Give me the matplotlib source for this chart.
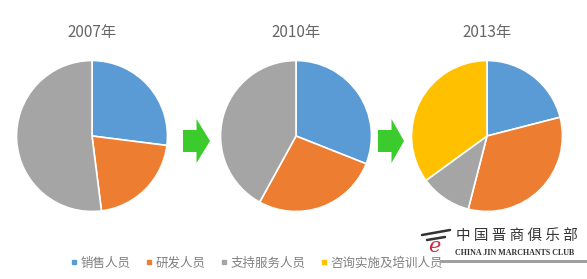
import matplotlib
matplotlib.use('Agg')
import matplotlib.pyplot as plt
from matplotlib.lines import Line2D
from matplotlib.patches import Polygon, Rectangle

plt.rcParams['font.family'] = ['Noto Sans CJK SC', 'DejaVu Sans']

# data (shares in %)
years = ['2007年', '2010年', '2013年']
roles = ['销售人员', '研发人员', '支持服务人员', '咨询实施及培训人员']
share_2007 = [27, 21, 52, 0]
share_2010 = [31, 27, 42, 0]
share_2013 = [21, 33, 11, 35]
colors = ['#5B9BD5', '#ED7D31', '#A5A5A5', '#FFC000']

W, H = 587, 279
fig = plt.figure(figsize=(W / 100, H / 100), dpi=100)
fig.patch.set_facecolor('white')

# pie centres / radius in pixels
centres = [(92, 136), (296, 136), (487, 136)]
r = 77

for (cx, cy), title, vals in zip(centres, years, [share_2007, share_2010, share_2013]):
    ax = fig.add_axes([(cx - r) / W, (H - cy - r) / H, 2 * r / W, 2 * r / H])
    v = [x for x in vals if x > 0]
    c = [col for x, col in zip(vals, colors) if x > 0]
    ax.pie(v, colors=c, startangle=90, counterclock=False, radius=1,
           wedgeprops=dict(edgecolor='white', linewidth=1.2))
    ax.set_xlim(-1.02, 1.02)
    ax.set_ylim(-1.02, 1.02)
    ax.set_aspect('equal')
    ax.axis('off')
    fig.text(cx / W, 1 - 32 / H, title, ha='center', va='center',
             fontsize=11, color='#666666')

# green arrows between the pies
def arrow(x0, tipx, yc):
    pts = [(x0, yc - 11), (x0 + 13.5, yc - 11), (x0 + 13.5, yc - 22), (tipx, yc),
           (x0 + 13.5, yc + 22), (x0 + 13.5, yc + 11), (x0, yc + 11)]
    pts = [(x / W, 1 - y / H) for x, y in pts]
    fig.patches.append(Polygon(pts, closed=True, transform=fig.transFigure,
                               facecolor='#3CCB2C', edgecolor='none'))

arrow(183, 210, 141)
arrow(378, 404, 141)

# legend
handles = [Line2D([], [], marker='s', linestyle='none', markersize=3.5,
                  markerfacecolor=col, markeredgecolor=col) for col in colors]
fig.legend(handles, roles, loc='center', bbox_to_anchor=(257 / W, 1 - 263 / H),
           ncol=4, frameon=False, fontsize=9, handlelength=0.5, handletextpad=0.3,
           columnspacing=1.2, labelcolor='#808080')

# watermark (logo of the source site)
fig.patches.append(Rectangle((362 / W, 1 - 274 / H), 225 / W, 22 / H,
                             transform=fig.transFigure, facecolor='white',
                             alpha=0.6, edgecolor='none', zorder=5))
fig.patches.append(Rectangle((440 / W, 1 - 263 / H), 147 / W, 3 / H,
                             transform=fig.transFigure, facecolor='#a0a0a0',
                             edgecolor='none', zorder=6))
fig.text(434 / W, 1 - 246 / H, 'e', fontsize=15, color='#d7263d', style='italic',
         ha='center', va='center', family='DejaVu Serif', zorder=7)
# brush strokes above the "e"
for xs, ys in [((422, 450), (235, 230)), ((427, 445), (240, 237))]:
    fig.lines.append(Line2D([x / W for x in xs], [1 - y / H for y in ys],
                            transform=fig.transFigure, color='#333333',
                            linewidth=1.8, solid_capstyle='round', zorder=7))
fig.text(456 / W, 1 - 236 / H, '中 国 晋 商 俱 乐 部', fontsize=10.5, color='#333333',
         ha='left', va='center', family=['Noto Sans CJK SC'], zorder=7)
fig.text(455 / W, 1 - 253 / H, 'CHINA JIN MARCHANTS CLUB', fontsize=5.8,
         color='#333333', ha='left', va='center', weight='bold',
         family='Liberation Serif', zorder=7)

fig.savefig('out.png', dpi=100, facecolor='white')
